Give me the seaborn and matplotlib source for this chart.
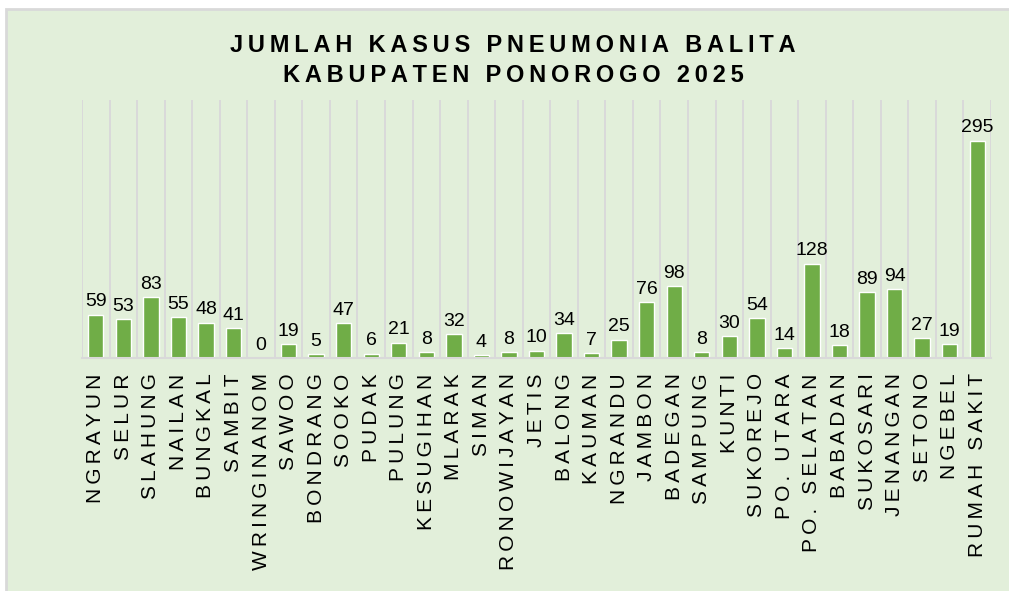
import numpy as np
import matplotlib
matplotlib.use("Agg")
import matplotlib.pyplot as plt
from matplotlib.patches import Rectangle
import seaborn as sns

# --- DATA ---
kecamatan = ["NGRAYUN", "SELUR", "SLAHUNG", "NAILAN", "BUNGKAL", "SAMBIT",
             "WRINGINANOM", "SAWOO", "BONDRANG", "SOOKO", "PUDAK", "PULUNG",
             "KESUGIHAN", "MLARAK", "SIMAN", "RONOWIJAYAN", "JETIS", "BALONG",
             "KAUMAN", "NGRANDU", "JAMBON", "BADEGAN", "SAMPUNG", "KUNTI",
             "SUKOREJO", "PO. UTARA", "PO. SELATAN", "BABADAN", "SUKOSARI",
             "JENANGAN", "SETONO", "NGEBEL", "RUMAH SAKIT"]
kasus = [59, 53, 83, 55, 48, 41, 0, 19, 5, 47, 6, 21, 8, 32, 4, 8, 10, 34,
         7, 25, 76, 98, 8, 30, 54, 14, 128, 18, 89, 94, 27, 19, 295]
judul = ["JUMLAH KASUS PNEUMONIA BALITA", "KABUPATEN PONOROGO 2025"]

BAR = "#70ad47"
BG = "#e2efda"
GRID = "#d9d9d9"

sns.set_style("white")
plt.rcParams["font.family"] = ["Liberation Sans", "DejaVu Sans"]
plt.rcParams["text.color"] = "black"
plt.rcParams["xtick.color"] = "black"


def spaced(s, sep):
    # letter spacing like the Excel chart
    return sep.join(list(s))


fig = plt.figure(figsize=(10.09, 5.91), dpi=100)
W, H = 1009, 591

# chart area background with border
fig.patches.append(Rectangle((6 / W, -0.01), 1.01, 1.01 - 9 / H, transform=fig.transFigure,
                             facecolor=BG, edgecolor=GRID, lw=2, zorder=-10))

ax = fig.add_axes([82 / W, 1 - 358 / H, (991 - 82) / W, (358 - 100) / H])
ax.set_facecolor("none")
ax.set_zorder(5)

sns.barplot(x=kecamatan, y=kasus, color=BAR, saturation=1, width=0.56, ax=ax)
ax.bar_label(ax.containers[0], padding=3, fontsize=14, color="black")

n = len(kecamatan)
ax.set_xlim(-0.5, n - 0.5)
ax.set_ylim(0, 350)
ax.set_yticks([])
ax.set_ylabel("")
ax.set_xticks(range(n))
ax.set_xticklabels([spaced(k, "\u2009") for k in kecamatan], rotation=90, fontsize=15,
                   color="black")
ax.set_xticks(np.arange(-0.5, n, 1), minor=True)
ax.tick_params(axis="x", which="both", length=0, pad=11)
ax.grid(which="minor", axis="x", color=GRID, lw=1.4)
ax.grid(which="major", visible=False)
ax.set_axisbelow(True)

for side in ["top", "left", "right"]:
    ax.spines[side].set_visible(False)
ax.spines["bottom"].set_color(GRID)
ax.spines["bottom"].set_linewidth(1.5)

# title
fig.text(513 / W, 1 - 46 / H, spaced(judul[0], "\u2009"), ha="center", va="center",
         fontsize=17, fontweight="bold", color="black")
fig.text(513 / W, 1 - 75 / H, spaced(judul[1], "\u2009"), ha="center", va="center",
         fontsize=17, fontweight="bold", color="black")

fig.savefig("out.png", dpi=100)
